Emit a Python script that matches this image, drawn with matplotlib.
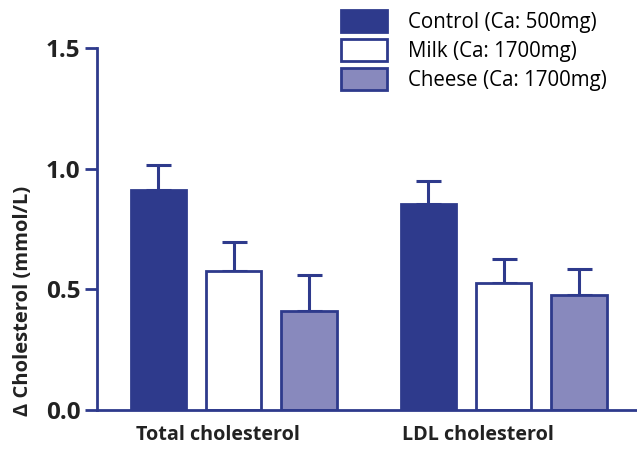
import matplotlib
matplotlib.use("Agg")
import matplotlib.pyplot as plt
import numpy as np

# Change in cholesterol by diet group (mean, upper SEM)
categories = ["Total cholesterol", "LDL cholesterol"]
groups = ["Control (Ca: 500mg)", "Milk (Ca: 1700mg)", "Cheese (Ca: 1700mg)"]
control_mean = [0.91, 0.855]
milk_mean = [0.575, 0.527]
cheese_mean = [0.41, 0.478]
control_err = [0.107, 0.095]
milk_err = [0.12, 0.10]
cheese_err = [0.148, 0.105]
yticks = [0.0, 0.5, 1.0, 1.5]

navy = "#2E3A8C"
face_colors = [navy, "white", "#8889BD"]

plt.rcParams["font.family"] = ["Open Sans", "DejaVu Sans"]

fig = plt.figure(figsize=(6.37, 4.51), dpi=100)
ax = fig.add_axes([97 / 637, 1 - 410 / 451, 539 / 637, 362 / 451])

x = np.arange(len(categories))
offset = 0.278
width = 0.207
means = [control_mean, milk_mean, cheese_mean]
errs = [control_err, milk_err, cheese_err]
for i, (m, e, fc, lab) in enumerate(zip(means, errs, face_colors, groups)):
    pos = x + (i - 1) * offset
    ax.bar(pos, m, width, color=fc, edgecolor=navy, linewidth=2.0,
           label=lab, zorder=2)
    ax.errorbar(pos, m, yerr=[np.zeros(len(e)), e], fmt="none",
                ecolor=navy, elinewidth=2.2, capsize=9, capthick=2.2,
                zorder=1)

ax.set_xlim(-0.5056, 1.4907)
ax.set_ylim(0, 1.5)
ax.set_yticks(yticks)
ax.set_yticklabels([f"{v:.1f}" for v in yticks], fontsize=17.5,
                   fontweight="bold", color="#222222")
ax.set_xticks([-0.059, 0.906])
ax.set_xticklabels(categories, fontsize=14.2, fontweight="bold",
                   color="#222222")
ax.tick_params(axis="x", length=0, pad=11)
ax.tick_params(axis="y", length=9, width=2, color=navy, pad=3)

for side in ["top", "right"]:
    ax.spines[side].set_visible(False)
for side in ["left", "bottom"]:
    ax.spines[side].set_color(navy)
    ax.spines[side].set_linewidth(2)
ax.spines["bottom"].set_zorder(3)

ax.set_ylabel("Δ Cholesterol (mmol/L)", fontsize=14.5, fontweight="bold",
              color="#222222")
ax.yaxis.set_label_coords(-0.118, 0.30)

ax.legend(loc="upper left", bbox_to_anchor=(341 / 637, 1 - 10 / 451),
          bbox_transform=fig.transFigure, frameon=False, fontsize=14.8,
          handlelength=2.24, handleheight=1.27, labelspacing=0.3,
          handletextpad=1.0, borderpad=0, borderaxespad=0)

fig.savefig("out.png", dpi=100)
